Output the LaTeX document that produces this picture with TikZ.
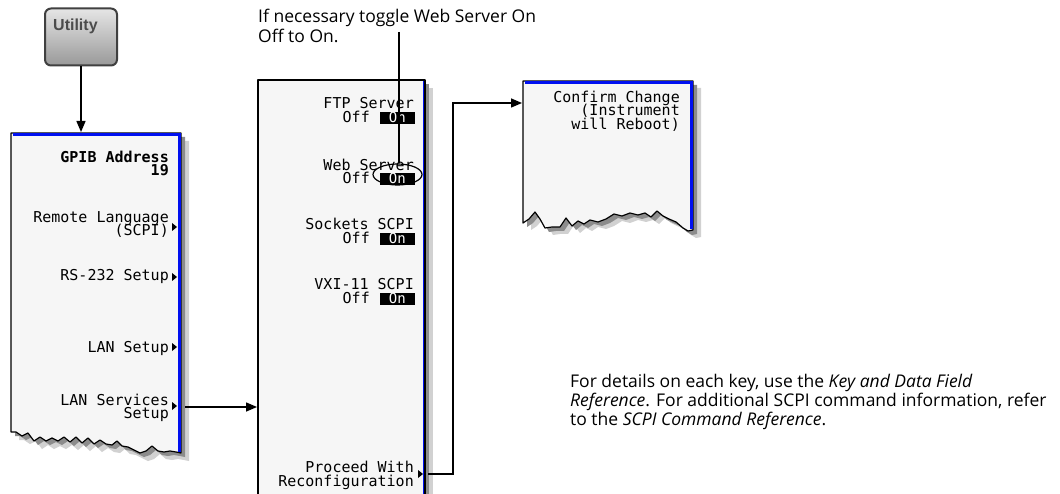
\documentclass[tikz,border=0pt]{standalone}
\usepackage{fontspec}
\setmainfont{Open Sans}
\newfontfamily\keyfont{DejaVu Sans Mono}
\newfontfamily\btnfont{Liberation Sans}
\usetikzlibrary{shapes.geometric,arrows.meta}
\definecolor{panelgray}{HTML}{F6F6F6}
\definecolor{keyblue}{HTML}{0010F0}
\newcommand\panelAshape[1]{\path[#1] (11,133) -- (181,133) -- (181,453) -- (176,452) -- (170,451) -- (164,452) -- (158,451) -- (152,446) -- (146,451) -- (140,453) -- (134,450) -- (128,447) -- (122,446) -- (117,441) -- (112,445) -- (106,444) -- (100,440) -- (94,444) -- (88,438) -- (82,443) -- (76,437) -- (70,442) -- (64,437) -- (58,441) -- (52,438) -- (46,441) -- (40,437) -- (34,441) -- (28,433) -- (22,436) -- (16,432) -- (11,432) -- cycle;}
\newcommand\panelCshape[1]{\path[#1] (523,81) -- (693,81) -- (693,230) -- (688,231) -- (683,228) -- (676,222) -- (669,219) -- (663,216) -- (657,211) -- (651,217) -- (645,213) -- (638,215) -- (630,213) -- (622,216) -- (614,214) -- (606,219) -- (598,222) -- (590,220) -- (584,224) -- (578,221) -- (572,226) -- (566,218) -- (560,227) -- (552,227) -- (545,228) -- (540,219) -- (535,212) -- (529,219) -- (523,223) -- cycle;}
\begin{document}
\begin{tikzpicture}[x=1pt,y=-1pt,
  shadowA/.style={fill=black!45},
  shadowB/.style={fill=black!18},
  panelbody/.style={fill=panelgray, draw=black, line width=1.2pt, line join=round},
  blueedge/.style={draw=keyblue, line width=2.5pt},
  keylbl/.style={font={\keyfont\fontsize{15}{15}\selectfont}, anchor=base east, inner sep=0pt},
  keybold/.style={keylbl, font={\keyfont\bfseries\fontsize{15}{15}\selectfont}},
  onbox/.style={fill=black, text=white, font={\keyfont\fontsize{14}{14}\selectfont}, minimum width=35pt, minimum height=12pt, text height=9pt, text depth=0pt, inner sep=0pt, anchor=south east},
  arr/.style={line width=1.5pt, -{Triangle[length=11pt,width=9pt]}},
  noteline/.style={font={\fontsize{17.5}{20}\selectfont}, anchor=base west, inner sep=0pt},
  btn/.style={rounded corners=6pt, draw=black!75, line width=2pt, top color=black!10, bottom color=black!40, minimum width=72pt, minimum height=57pt},
  btntext/.style={font={\btnfont\bfseries\fontsize{16}{16}\selectfont}, text=black!70, anchor=base west, inner sep=0pt},
  subkey/.style={fill=black},
  ring/.style={draw=black, line width=1.2pt, ellipse, minimum width=49pt, minimum height=21pt, inner sep=0pt}
]
\useasboundingbox (0,0) rectangle (1060,494);
\fill[white] (0,0) rectangle (1060,494);

% ---------- Utility hardkey ----------
\node[btn] (utility) at (81,37) {};
\node[btntext] (utiltxt) at (53,31) {Utility};

% ---------- Panel 1 ----------
\panelAshape{shadowB, shift={(8,8)}}
\panelAshape{shadowA, shift={(4,4)}}
\panelAshape{panelbody}
\draw[blueedge] (12.5,134.5) -- (179.5,134.5) -- (179.5,452);
\coordinate (p1top) at (81,132);
\node[keybold] (gpib) at (169,163) {GPIB Address};
\node[keybold] (gpibv) at (169,176) {19};
\node[keylbl] (remote) at (169,223) {Remote Language};
\node[keylbl] (remote2) at (169,236) {(SCPI)};
\node[keylbl] (rs232) at (169,280) {RS-232 Setup};
\node[keylbl] (lansetup) at (169,352) {LAN Setup};
\node[keylbl] (lanserv) at (169,405) {LAN Services};
\node[keylbl] (lanserv2) at (169,418) {Setup};
\fill[subkey] (172,223) -- (177,227) -- (172,231) -- cycle;
\fill[subkey] (172,273) -- (177,277) -- (172,281) -- cycle;
\fill[subkey] (172,343) -- (177,347) -- (172,351) -- cycle;
\fill[subkey] (172,402) -- (177,406) -- (172,410) -- cycle;

% ---------- Panel 2 ----------
\fill[shadowB] (266,88) rectangle (433,500);
\fill[shadowA] (262,84) rectangle (429,500);
\path[panelbody] (258,80) rectangle (425,500);
\draw[draw=keyblue, line width=1.5pt] (423.5,81) -- (423.5,494);
\node[keylbl] (ftp) at (414,109) {FTP Server};
\node[keylbl] (ftpoff) at (370,123) {Off};
\node[onbox] (ftpon) at (415,124) {On};
\node[keylbl] (web) at (414,171) {Web Server};
\node[keylbl] (weboff) at (370,184) {Off};
\node[onbox] (webon) at (415,185) {On};
\node[keylbl] (sock) at (414,230) {Sockets SCPI};
\node[keylbl] (sockoff) at (370,244) {Off};
\node[onbox] (sockon) at (415,245) {On};
\node[keylbl] (vxi) at (414,290) {VXI-11 SCPI};
\node[keylbl] (vxioff) at (370,304) {Off};
\node[onbox] (vxion) at (415,305) {On};
\node[keylbl] (proceed) at (414,472) {Proceed With};
\node[keylbl] (proceed2) at (414,486) {Reconfiguration};
\fill[subkey] (418,470) -- (423,474) -- (418,478) -- cycle;
\node[ring] (ring) at (397.5,174.5) {};

% ---------- Panel 3 ----------
\panelCshape{shadowB, shift={(8,7)}}
\panelCshape{shadowA, shift={(4,4)}}
\panelCshape{panelbody}
\draw[blueedge] (524.5,82.5) -- (691.5,82.5) -- (691.5,229);
\node[keylbl] (confirm) at (680,103) {Confirm Change};
\node[keylbl] (confirm2) at (680,116) {(Instrument};
\node[keylbl] (confirm3) at (680,130) {will Reboot)};

% ---------- Connectors ----------
\draw[arr] (utility.south) -- (p1top);
\coordinate (lsout) at (185,407);
\coordinate (p2in) at (257,407);
\draw[arr] (lsout) -- (p2in);
\coordinate (prout) at (428,474);
\coordinate (vx) at (453,0);
\coordinate (p3in) at (522,103);
\draw[arr] (prout) -| (vx |- p3in) -- (p3in);
\coordinate (callfoot) at (399,32);
\draw[line width=1.5pt] (callfoot) -- (callfoot |- ring.north);

% ---------- Texts ----------
\node[noteline] (call1) at (258,23) {If necessary toggle Web Server On};
\node[noteline] (call2) at (258,43) {Off to On.};
\node[noteline] (note1) at (570,387) {For details on each key, use the \textit{Key and Data Field}};
\node[noteline] (note2) at (570,406) {\textit{Reference}. For additional SCPI command information, refer};
\node[noteline] (note3) at (570,425) {to the \textit{SCPI Command Reference}.};
\end{tikzpicture}
\end{document}
